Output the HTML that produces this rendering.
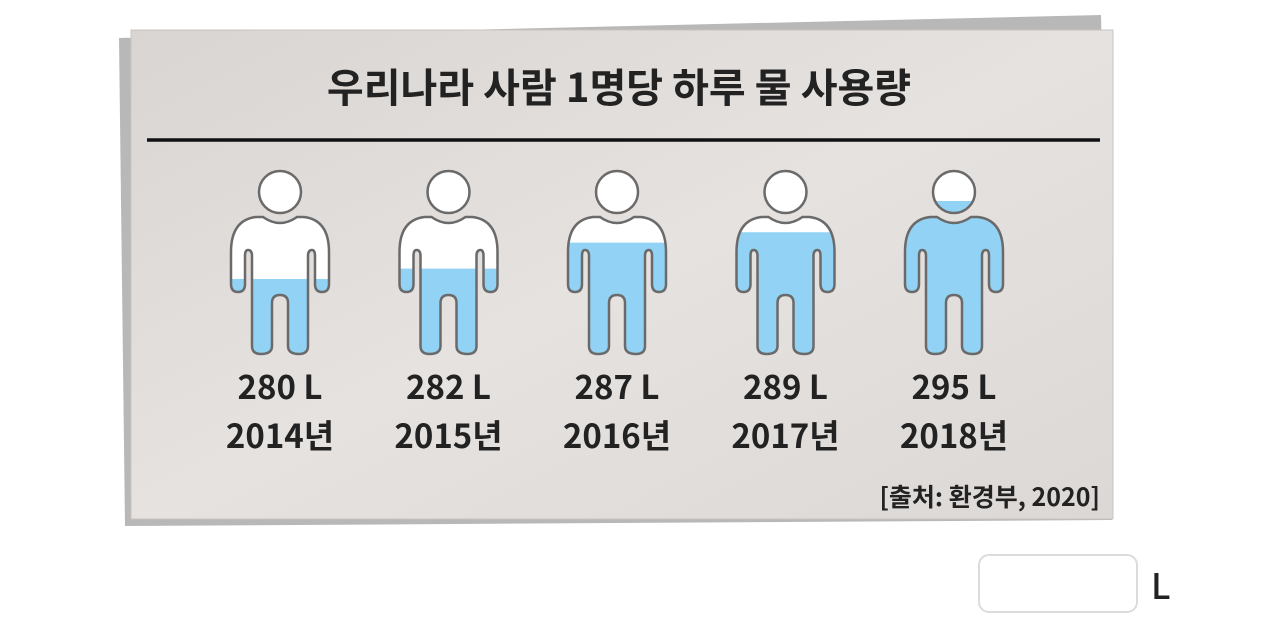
<!DOCTYPE html>
<html><head><meta charset="utf-8"><style>
body{margin:0;width:1280px;height:620px;background:#fff;overflow:hidden;font-family:"Noto Sans CJK KR","Liberation Sans",sans-serif}
input{position:absolute;left:978px;top:554px;width:160px;height:59px;box-sizing:border-box;border:2px solid #dcdcdc;border-radius:11px;background:#fff;outline:none}
.unit{position:absolute;left:1151px;top:560px;font-size:35px;font-weight:500;color:#222;line-height:50px}
text{font-family:"Noto Sans CJK KR","Liberation Sans",sans-serif}
</style></head><body>
<svg id="chart" width="1280" height="620" style="position:absolute;left:0;top:0">
<defs>
<linearGradient id="paper" x1="0" y1="0" x2="1" y2="1"><stop offset="0" stop-color="#d9d5d3"/><stop offset="0.5" stop-color="#e6e2e0"/><stop offset="1" stop-color="#dcd8d6"/></linearGradient>
</defs>
<polygon points="119,38 1101,15 1112,520 125,526" fill="#b8b8b8"/>
<rect x="131" y="30" width="982" height="489" fill="url(#paper)" stroke="#c8c4c2" stroke-width="1"/>
<text x="619" y="102" text-anchor="middle" font-size="40" font-weight="bold" fill="#222">우리나라 사람 1명당 하루 물 사용량</text>
<line x1="147" y1="140" x2="1100" y2="140" stroke="#111" stroke-width="3.5"/>
<g id="figs"></g>
<text x="1100" y="506" text-anchor="end" font-size="25" font-weight="bold" fill="#222">[출처: 환경부, 2020]</text>
</svg>
<input type="text">
<div class="unit">L</div>
<script>
const years = ['2014년','2015년','2016년','2017년','2018년'];
const values = [280, 282, 287, 289, 295];
const valueLabels = ['280 L','282 L','287 L','289 L','295 L'];

const NS='http://www.w3.org/2000/svg';
const g=document.getElementById('figs');
function xPos(i){return 280+i*168.5;}
function yLevel(v){return 279+(v-280)*(201-279)/(295-280);}
const body="M -17 217 Q 0 229 17 217 L 24 217 Q 49 220 49 252 L 49 284 Q 49 292 42 292 Q 35 292 35 284 L 35 256 Q 35 250 32 250 Q 28 250 28 256 L 28 346 Q 28 354 19 354 Q 8 354 8 346 L 8 303 Q 8 295 0 295 Q -8 295 -8 303 L -8 346 Q -8 354 -19 354 Q -28 354 -28 346 L -28 256 Q -28 250 -32 250 Q -35 250 -35 256 L -35 284 Q -35 292 -42 292 Q -49 292 -49 284 L -49 252 Q -49 220 -24 217 Z";
function mk(tag,attrs){const e=document.createElementNS(NS,tag);for(const k in attrs)e.setAttribute(k,attrs[k]);return e;}
values.forEach((v,i)=>{
  const cx=xPos(i), ly=yLevel(v);
  const fig=mk('g',{transform:'translate('+cx+',0)'});
  
  
  const cp=mk('clipPath',{id:'cp'+i});
  cp.appendChild(mk('rect',{x:-60,y:ly,width:120,height:400}));
  fig.appendChild(cp);
  [['path',{d:body}],['circle',{cx:0,cy:192,r:21}]].forEach(([t,a])=>{
    const w=mk(t,Object.assign({fill:'#fff'},a));fig.appendChild(w);
    const b=mk(t,Object.assign({fill:'#92d3f5','clip-path':'url(#cp'+i+')'},a));
    
    
    fig.appendChild(b);
    fig.appendChild(mk(t,Object.assign({fill:'none',stroke:'#6a6a6a','stroke-width':2.5},a)));
  });
  g.appendChild(fig);
  const t1=mk('text',{x:cx,y:399,'text-anchor':'middle','font-size':33,'font-weight':'bold',fill:'#222'});
  
  
  t1.textContent=valueLabels[i];g.appendChild(t1);
  const t2=mk('text',{x:cx,y:448,'text-anchor':'middle','font-size':33,'font-weight':'bold',fill:'#222'});
  
  
  t2.textContent=years[i];g.appendChild(t2);
});
</script>
</body></html>
